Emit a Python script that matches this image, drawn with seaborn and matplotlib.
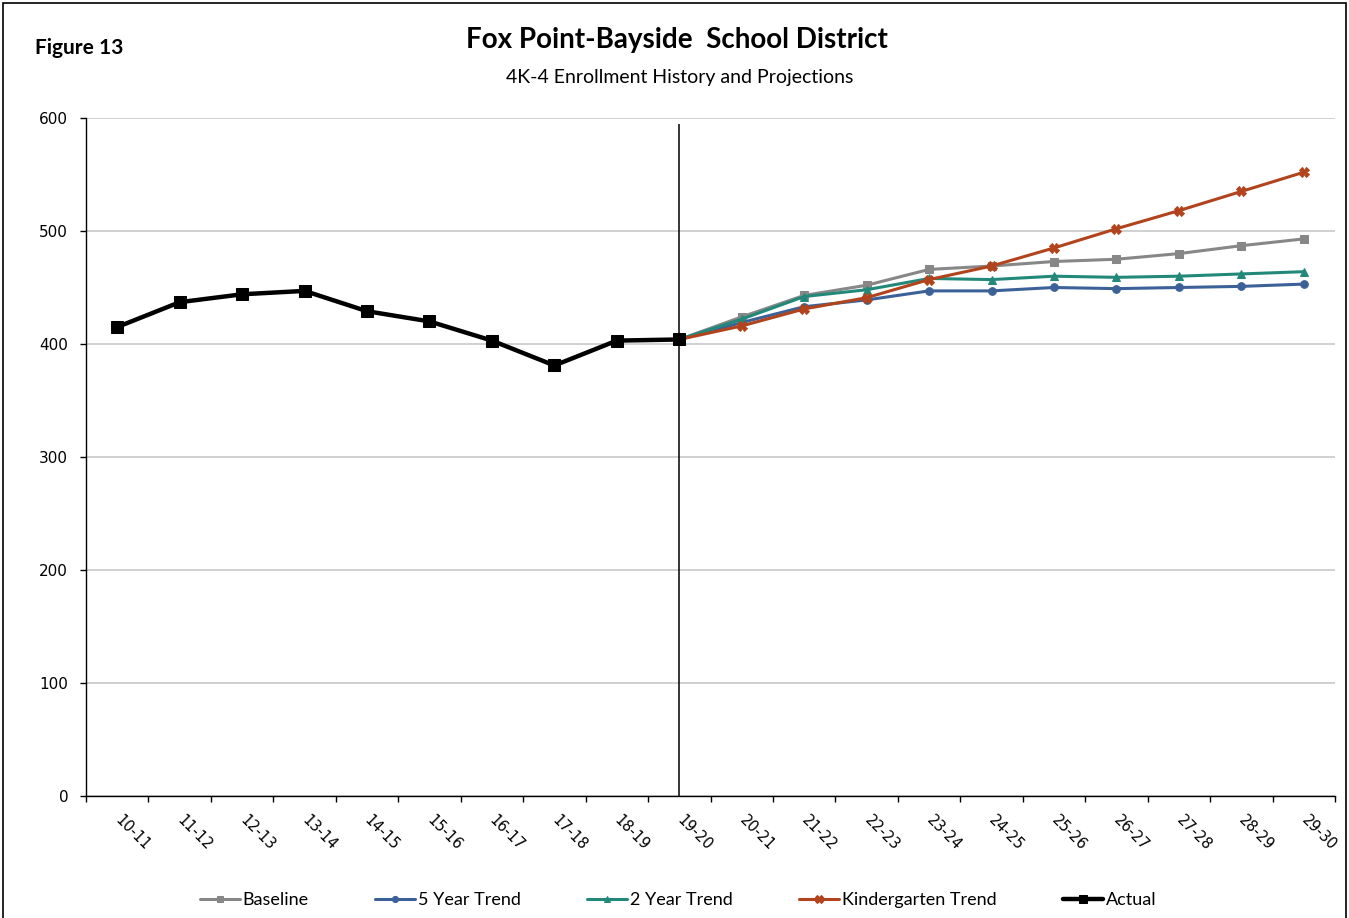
import seaborn as sns
import matplotlib.pyplot as plt
import matplotlib.patches as mpatches
import numpy as np
import pandas as pd

# school years on the x axis
years = ["10-11", "11-12", "12-13", "13-14", "14-15", "15-16", "16-17", "17-18", "18-19", "19-20",
         "20-21", "21-22", "22-23", "23-24", "24-25", "25-26", "26-27", "27-28", "28-29", "29-30"]

# history (10-11 .. 19-20)
actual = [415, 437, 444, 447, 429, 420, 403, 381, 403, 404]

# projections (19-20 .. 29-30)
baseline = [404, 424, 443, 452, 466, 469, 473, 475, 480, 487, 493]
five_year = [404, 419, 433, 439, 447, 447, 450, 449, 450, 451, 453]
two_year = [404, 422, 442, 448, 458, 457, 460, 459, 460, 462, 464]
kinder = [404, 416, 431, 441, 457, 469, 485, 502, 518, 535, 552]

pos = np.arange(len(years))
hist_x = pos[:len(actual)]
proj_x = pos[len(actual) - 1:]

sns.set_style("white")
plt.rcParams['font.family'] = ['Lato', 'DejaVu Sans']
plt.rcParams['text.color'] = 'black'
plt.rcParams['xtick.color'] = 'black'
plt.rcParams['ytick.color'] = 'black'

fig = plt.figure(figsize=(13.49, 9.18), dpi=100)
ax = fig.add_axes([86 / 1349, 1 - 796 / 918, (1335 - 86) / 1349, (796 - 118) / 918])

series = [
    ("Baseline", baseline, "#878787", "s", 5.5),
    ("5 Year Trend", five_year, "#3b6198", "o", 5.5),
    ("2 Year Trend", two_year, "#22897a", "^", 6),
    ("Kindergarten Trend", kinder, "#b2441d", "X", 7),
]
for name, vals, col, mk, ms in series:
    df = pd.DataFrame({"x": proj_x, "y": vals})
    sns.lineplot(data=df, x="x", y="y", ax=ax, color=col, lw=2.2, marker=mk,
                 markersize=ms, markeredgecolor=col, label=name)

df_act = pd.DataFrame({"x": hist_x, "y": actual})
sns.lineplot(data=df_act, x="x", y="y", ax=ax, color="black", lw=3.2, marker="s",
             markersize=8, markeredgecolor="black", label="Actual")

# divider between history and projections
ax.vlines(len(actual) - 1, 0, 595, color="black", lw=1.1, zorder=1)

ax.set_xlim(-0.5, len(years) - 0.5)
ax.set_ylim(0, 600)
ax.set_yticks(range(0, 601, 100))
ax.grid(axis="y", color="#c8c8c8", lw=1.2)
ax.set_axisbelow(True)
ax.set_xlabel("")
ax.set_ylabel("")

ax.set_xticks(np.arange(-0.5, len(years), 1.0))
ax.set_xticklabels([])
ax.set_xticks(pos, minor=True)
ax.set_xticklabels(years, minor=True, rotation=-45, ha="left", va="center",
                   rotation_mode="anchor", fontsize=10.5, family="DejaVu Sans")
ax.tick_params(axis="x", which="major", direction="out", length=4.3, width=1, bottom=True)
ax.tick_params(axis="x", which="minor", length=0, pad=16)
ax.tick_params(axis="y", direction="out", length=4.3, width=1, left=True, labelsize=11, pad=8.5)
for t in ax.get_yticklabels():
    t.set_family("DejaVu Sans")

for s in ["top", "right"]:
    ax.spines[s].set_visible(False)
for s in ["left", "bottom"]:
    ax.spines[s].set_color("black")
    ax.spines[s].set_linewidth(1)

handles, labels = ax.get_legend_handles_labels()
ax.legend(handles, labels, loc="center", bbox_to_anchor=((678 - 86) / 1249, (796 - 900) / 678),
          ncol=5, frameon=False, fontsize=13, handlelength=2.2, handletextpad=0.15,
          columnspacing=3.7, markerscale=0.8)

fig.text(677 / 1349, 1 - 40 / 918, "Fox Point-Bayside  School District", ha="center", va="center",
         fontsize=20, fontweight="bold")
fig.text(680 / 1349, 1 - 78 / 918, "4K-4 Enrollment History and Projections", ha="center", va="center",
         fontsize=14)
fig.text(35 / 1349, 1 - 48 / 918, "Figure 13", ha="left", va="center", fontsize=15, fontweight="bold")

# outer frame
fig.patches.append(mpatches.Rectangle((3 / 1349, -0.01), 1343 / 1349, 1.01 - 3 / 918,
                                      transform=fig.transFigure, fill=False, edgecolor="black", lw=1.2))

fig.savefig("out.png", dpi=100)
